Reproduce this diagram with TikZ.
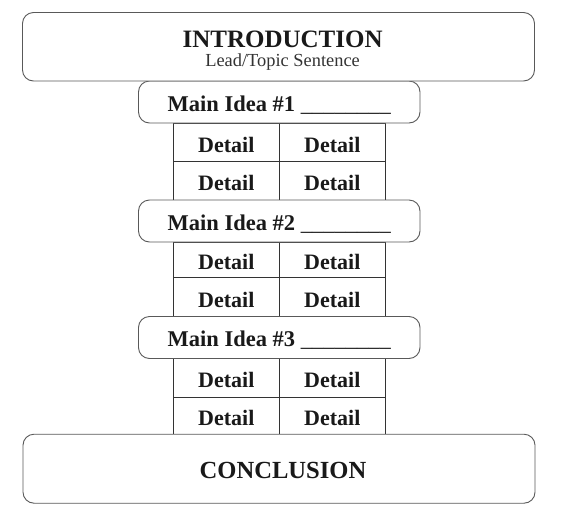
\documentclass[tikz,border=0pt]{standalone}
\usepackage{fontspec}
\setmainfont{Liberation Serif}

\tikzset{
  bigbox/.style={draw=black!65, line width=0.9pt, rounded corners=11pt, fill=white,
    minimum width=512pt, inner sep=0pt, text=black!90},
  ideabox/.style={draw=black!65, line width=0.9pt, rounded corners=11pt, fill=white,
    minimum width=281.5pt, minimum height=42pt, inner sep=0pt, text=black!90,
    text height=18pt, text depth=0pt, font=\fontsize{22.5}{26}\selectfont\bfseries},
  detailcell/.style={draw=black!80, line width=0.8pt, inner sep=0pt, text=black!90,
    minimum width=106pt, text height=20pt, text depth=0pt,
    font=\fontsize{22}{26}\selectfont\bfseries},
}
\newcommand{\blankline}{{\mdseries\textunderscore\textunderscore\textunderscore\textunderscore\textunderscore\textunderscore\textunderscore\textunderscore}}

\begin{document}
\begin{tikzpicture}[x=1pt, y=-1pt]
    \useasboundingbox (0,0) rectangle (571,520);
    % Details #1
    \node[detailcell, minimum height=38pt] (d11) at (226.3,142) {Detail};
    \node[detailcell, minimum height=38pt] (d12) at (332.3,142) {Detail};
    \node[detailcell, minimum height=39pt] (d13) at (226.3,180.5) {Detail};
    \node[detailcell, minimum height=39pt] (d14) at (332.3,180.5) {Detail};
    % Details #2
    \node[detailcell, minimum height=35pt] (d21) at (226.3,259.5) {Detail};
    \node[detailcell, minimum height=35pt] (d22) at (332.3,259.5) {Detail};
    \node[detailcell, minimum height=40pt] (d23) at (226.3,297) {Detail};
    \node[detailcell, minimum height=40pt] (d24) at (332.3,297) {Detail};
    % Details #3
    \node[detailcell, minimum height=39pt] (d31) at (226.3,377.5) {Detail};
    \node[detailcell, minimum height=39pt] (d32) at (332.3,377.5) {Detail};
    \node[detailcell, minimum height=37pt] (d33) at (226.3,415.5) {Detail};
    \node[detailcell, minimum height=37pt] (d34) at (332.3,415.5) {Detail};
    % Main ideas
    \node[ideabox] (idea1) at (279.25,102) {Main Idea \#1 \blankline};
    \node[ideabox] (idea2) at (279.25,221) {Main Idea \#2 \blankline};
    \node[ideabox] (idea3) at (279.25,337.5) {Main Idea \#3 \blankline};
    % Introduction
    \node[bigbox, minimum height=68.5pt] (intro) at (278.5,46.75) {};
    \node[anchor=base, text=black!90, font=\fontsize{25}{30}\selectfont\bfseries]
      (introtitle) at (282.6,47.3) {INTRODUCTION};
    \node[anchor=base, text=black!80, font=\fontsize{18.4}{22}\selectfont]
      (introsub) at (282.6,66.7) {Lead/Topic Sentence};
    % Conclusion
    \node[bigbox, minimum height=69pt] (conclusion) at (279,468.7) {};
    \node[anchor=base, text=black!90, font=\fontsize{24.6}{29}\selectfont\bfseries]
      (conctitle) at (283,478.3) {CONCLUSION};
\end{tikzpicture}
\end{document}
